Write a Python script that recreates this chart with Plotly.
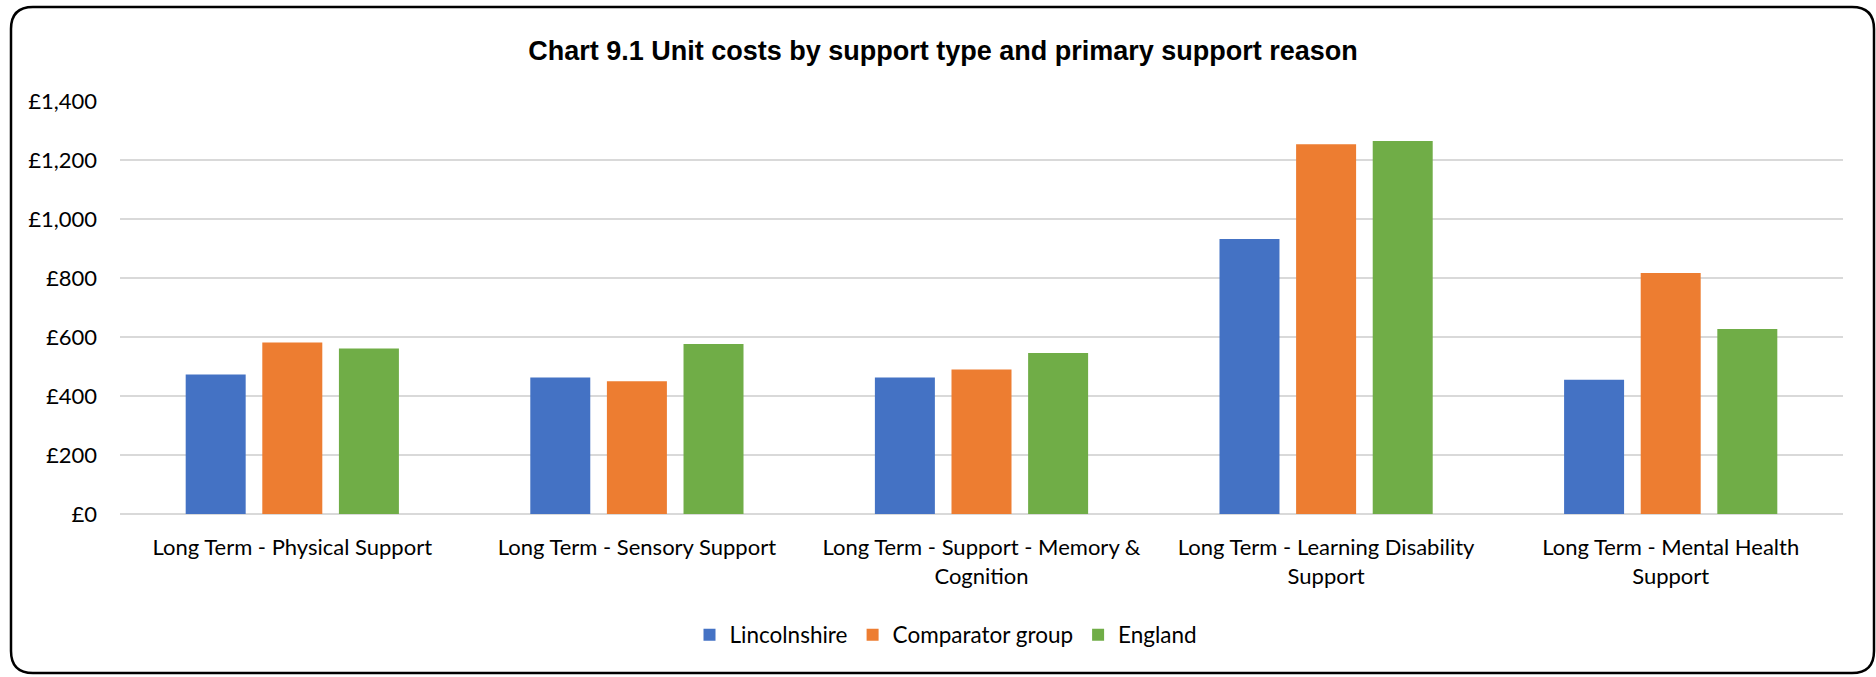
import plotly.graph_objects as go

# Primary support reason categories (two-line labels where the text wraps)
categories = [
    "Long Term - Physical Support",
    "Long Term - Sensory Support",
    "Long Term - Support - Memory &<br>Cognition",
    "Long Term - Learning Disability<br>Support",
    "Long Term - Mental Health<br>Support",
]

# Unit costs (£) per series
lincolnshire = [473, 463, 463, 932, 455]
comparator_group = [581, 450, 490, 1253, 817]
england = [561, 576, 546, 1264, 627]

series_names = ["Lincolnshire", "Comparator group", "England"]
series_colors = ["#4472C4", "#ED7D31", "#70AD47"]

y_ticks = [0, 200, 400, 600, 800, 1000, 1200, 1400]
y_tick_labels = [f"£{v:,}" for v in y_ticks]

W, H = 1876, 677
L, R, T, B = 120, 33, 101, 163
plot_w = W - L - R
plot_h = H - T - B

fig = go.Figure()
for name, vals, col in zip(series_names, [lincolnshire, comparator_group, england], series_colors):
    fig.add_trace(go.Bar(name=name, x=categories, y=vals, marker=dict(color=col, line=dict(width=0))))


def px_x(p):
    return (p - L) / plot_w


def px_y(p):
    return (H - B - p) / plot_h


# Rounded outer frame of the chart, expressed in paper units
x0, x1, y0, y1, rad = 11, 1874, 7, 673, 22
path = (
    f"M {px_x(x0 + rad)},{px_y(y0)} "
    f"L {px_x(x1 - rad)},{px_y(y0)} "
    f"Q {px_x(x1)},{px_y(y0)} {px_x(x1)},{px_y(y0 + rad)} "
    f"L {px_x(x1)},{px_y(y1 - rad)} "
    f"Q {px_x(x1)},{px_y(y1)} {px_x(x1 - rad)},{px_y(y1)} "
    f"L {px_x(x0 + rad)},{px_y(y1)} "
    f"Q {px_x(x0)},{px_y(y1)} {px_x(x0)},{px_y(y1 - rad)} "
    f"L {px_x(x0)},{px_y(y0 + rad)} "
    f"Q {px_x(x0)},{px_y(y0)} {px_x(x0 + rad)},{px_y(y0)} Z"
)
fig.add_shape(type="path", path=path, xref="paper", yref="paper",
              line=dict(color="black", width=2.5), layer="above")

fig.update_layout(
    width=W, height=H,
    margin=dict(l=L, r=R, t=T, b=B, autoexpand=False),
    paper_bgcolor="white", plot_bgcolor="white",
    barmode="group", bargap=0.333, bargroupgap=0.217,
    title=dict(
        text="<b>Chart 9.1 Unit costs by support type and primary support reason</b>",
        font=dict(family="Liberation Sans", size=27, color="black"),
        x=943 / W, xref="container", xanchor="center",
        y=1 - 51 / H, yref="container", yanchor="middle",
    ),
    font=dict(family="Lato", color="black"),
    legend=dict(
        orientation="h", x=px_x(946), xanchor="center", y=px_y(635), yanchor="middle",
        font=dict(family="Lato", size=22.5, color="black"),
        traceorder="normal", itemwidth=30,
    ),
    xaxis=dict(showline=False, ticks="", ticklabelstandoff=18,
               tickfont=dict(family="Lato", size=22, color="black")),
    yaxis=dict(
        range=[0, 1400], tickmode="array", tickvals=y_ticks, ticktext=y_tick_labels,
        showgrid=True, gridcolor="#d9d9d9", gridwidth=1.5,
        zeroline=True, zerolinecolor="#d9d9d9", zerolinewidth=1.5,
        showline=False, ticks="", ticklabelstandoff=22,
        tickfont=dict(family="Lato", size=22, color="black"),
    ),
)

fig.write_html("out.html")
